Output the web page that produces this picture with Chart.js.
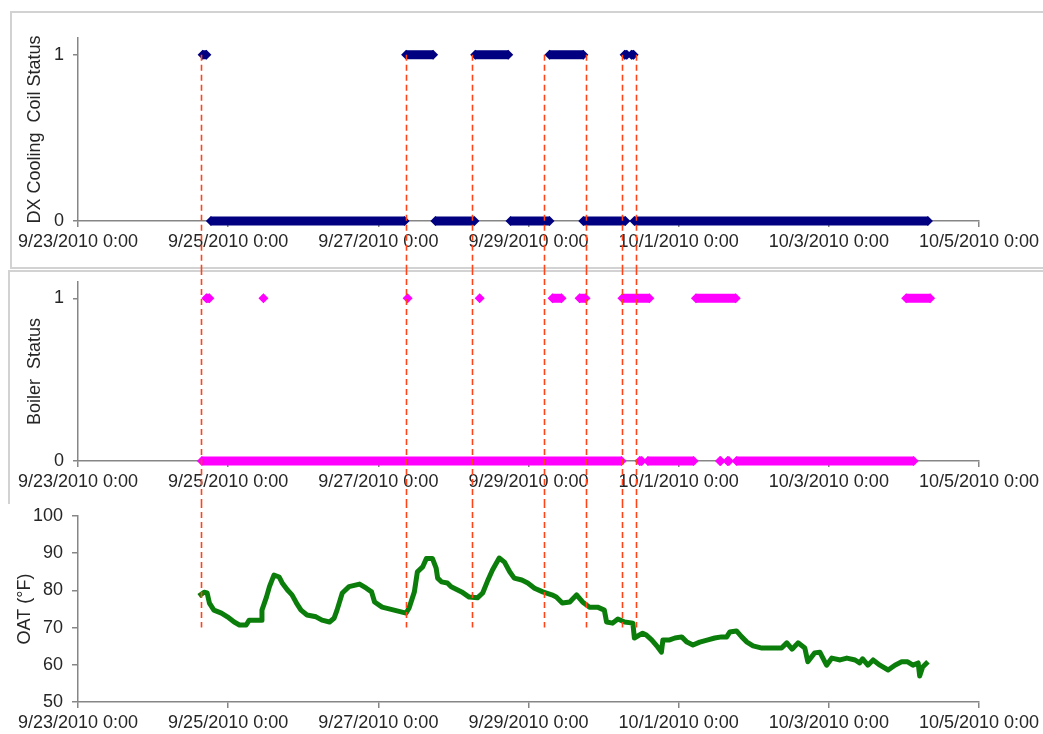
<!DOCTYPE html>
<html>
<head>
<meta charset="utf-8">
<script src="https://cdn.jsdelivr.net/npm/chart.js@4.4.1/dist/chart.umd.min.js"></script>
<style>
  body { margin: 0; background: #fff; }
  #page { position: relative; width: 1043px; height: 734px; overflow: hidden; }
  #page canvas { position: absolute; left: 0; }
  .frame { position: absolute; border: 0 solid #d2d2d2; }
</style>
</head>
<body>
<div id="page">
  <div class="frame" style="left:10px; top:11px; width:1040px; height:254px; border-width:2px 0 2px 2px;"></div>
  <div class="frame" style="left:8px; top:270px; width:1040px; height:232px; border-width:2px 0 0 2px;"></div>
  <canvas id="dxChart" width="1043" height="269" style="top:0"></canvas>
  <canvas id="boilerChart" width="1043" height="233" style="top:269px"></canvas>
  <canvas id="oatChart" width="1043" height="232" style="top:502px"></canvas>
</div>
<script>
// x values are days since 9/23/2010 0:00
const X_TICK_LABELS = ['9/23/2010 0:00', '9/25/2010 0:00', '9/27/2010 0:00', '9/29/2010 0:00',
                       '10/1/2010 0:00', '10/3/2010 0:00', '10/5/2010 0:00'];

// dashed event markers
const EVENT_DAYS = [1.64, 4.37, 5.25, 6.21, 6.76, 7.25, 7.43];

// [start, end] of each run of samples at a status level
const DX_ON_RUNS = [[1.66, 1.71], [4.37, 4.73], [5.29, 5.73], [6.28, 6.73], [7.28, 7.31], [7.37, 7.40]];
const DX_OFF_RUNS = [[1.77, 4.35], [4.76, 5.28], [5.76, 6.28], [6.73, 7.29], [7.41, 11.32]];

const BOILER_ON_RUNS = [[1.71, 1.75], [2.47, 2.47], [4.39, 4.39], [5.35, 5.35], [6.32, 6.44], [6.68, 6.76],
                        [7.25, 7.61], [8.23, 8.76], [11.03, 11.35]];
const BOILER_OFF_RUNS = [[1.65, 7.24], [7.48, 7.51], [7.59, 8.20], [8.55, 8.56], [8.65, 8.67], [8.77, 11.13]];

const OAT_DAYS = [1.61, 1.68, 1.72, 1.75, 1.81, 1.91, 1.99, 2.08, 2.15, 2.24, 2.28, 2.44, 2.45, 2.51, 2.55, 2.61,
  2.68, 2.72, 2.79, 2.85, 2.91, 2.97, 3.05, 3.17, 3.25, 3.35, 3.41, 3.45, 3.52, 3.61, 3.75, 3.84, 3.91, 3.95,
  4.05, 4.21, 4.37, 4.41, 4.48, 4.52, 4.59, 4.64, 4.72, 4.77, 4.79, 4.84, 4.92, 4.97, 5.11, 5.21, 5.32, 5.39,
  5.45, 5.52, 5.61, 5.68, 5.75, 5.81, 5.91, 5.99, 6.08, 6.19, 6.31, 6.37, 6.45, 6.55, 6.64, 6.72, 6.81, 6.92,
  7.01, 7.04, 7.12, 7.19, 7.28, 7.39, 7.41, 7.52, 7.57, 7.64, 7.72, 7.77, 7.79, 7.88, 7.95, 8.04, 8.11, 8.19,
  8.28, 8.39, 8.48, 8.57, 8.64, 8.68, 8.77, 8.84, 8.91, 8.99, 9.11, 9.19, 9.37, 9.44, 9.51, 9.59, 9.68, 9.72,
  9.81, 9.88, 9.97, 10.04, 10.15, 10.24, 10.35, 10.41, 10.45, 10.52, 10.59, 10.68, 10.79, 10.88, 10.97, 11.05,
  11.12, 11.19, 11.21, 11.25, 11.32];
const OAT_F = [78.5, 79.5, 79.3, 76.6, 74.7, 73.9, 72.9, 71.5, 70.7, 70.7, 72.0, 72.0, 74.7, 78.2, 81.0, 84.1,
  83.6, 82.0, 80.1, 78.8, 76.6, 74.7, 73.4, 72.9, 72.0, 71.5, 72.5, 74.7, 79.3, 81.0, 81.7, 80.6, 79.6, 76.9,
  75.5, 74.7, 73.9, 75.3, 79.6, 85.0, 86.3, 88.6, 88.6, 86.0, 83.3, 82.3, 82.0, 81.0, 79.6, 78.2, 78.0, 79.3,
  82.3, 85.5, 88.7, 87.6, 85.0, 83.3, 82.8, 82.0, 80.6, 79.6, 78.8, 78.2, 76.6, 76.9, 78.8, 76.9, 75.5, 75.5,
  74.7, 71.5, 71.2, 72.3, 71.5, 71.2, 67.2, 68.5, 68.0, 66.7, 64.8, 63.4, 66.7, 66.7, 67.2, 67.5, 66.1, 65.3,
  66.1, 66.7, 67.2, 67.5, 67.5, 68.8, 69.1, 67.5, 66.1, 65.1, 64.5, 64.5, 64.5, 65.9, 64.2, 65.9, 64.5, 60.8,
  63.2, 63.4, 59.9, 61.8, 61.3, 61.8, 61.3, 60.5, 61.6, 59.9, 61.3, 59.9, 58.6, 59.9, 60.8, 60.8,
  59.9, 60.5, 57.0, 59.4, 60.8];

const AXIS_GREY = '#868686';
const TEXT = '#262626';

Chart.defaults.font.family = "'Liberation Sans', Arial, sans-serif";
Chart.defaults.font.size = 18;
Chart.defaults.color = TEXT;

// runs -> points, with a null between runs so the line breaks
function runsToPoints(runs, level) {
    const pts = [];
    runs.forEach(([a, b], i) => {
        if (i) pts.push({ x: (runs[i - 1][1] + a) / 2, y: null });
        pts.push({ x: a, y: level });
        if (b !== a) pts.push({ x: b, y: level });
    });
    return pts;
}

function bandDataset(runs, level, color) {
    return {
        data: runsToPoints(runs, level),
        borderColor: color,
        backgroundColor: color,
        borderWidth: 9,
        pointStyle: 'rectRot',
        pointRadius: 5,
        pointBorderWidth: 0,
        spanGaps: false,
        clip: 12,
    };
}

const eventLines = {
    id: 'eventLines',
    afterDraw(chart, args, opts) {
        const { ctx, scales: { x, y } } = chart;
        const top = opts.from == null ? 0 : y.getPixelForValue(opts.from);
        const bottom = opts.to == null ? chart.height : y.getPixelForValue(opts.to);
        ctx.save();
        ctx.strokeStyle = '#ff4419';
        ctx.lineWidth = 1.6;
        ctx.setLineDash([6, 4]);
        for (const d of EVENT_DAYS) {
            const px = Math.round(x.getPixelForValue(d)) + 0.5;
            ctx.beginPath();
            ctx.moveTo(px, top);
            ctx.lineTo(px, bottom);
            ctx.stroke();
        }
        ctx.restore();
    }
};

function xScale(axisHeight) {
    return {
        type: 'linear',
        min: 0,
        max: 12,
        border: { display: true, color: AXIS_GREY, width: 1.5 },
        grid: { drawOnChartArea: false, drawTicks: true, tickLength: 6, color: AXIS_GREY, lineWidth: 1.5 },
        ticks: {
            stepSize: 2,
            autoSkip: false,
            maxRotation: 0,
            padding: 4,
            callback: (v) => X_TICK_LABELS[Math.round(v / 2)],
        },
        afterFit(scale) {
            scale.height = axisHeight;
            scale.paddingLeft = 0;
            scale.paddingRight = 0;
        },
    };
}

function yScale(min, max, step, title, titlePad, tickLen) {
    return {
        min, max,
        border: { display: true, color: AXIS_GREY, width: 1.5 },
        grid: { drawOnChartArea: false, drawTicks: true, tickLength: tickLen, color: AXIS_GREY, lineWidth: 1.5 },
        ticks: { stepSize: step, includeBounds: false, padding: 9 },
        title: { display: true, text: title, color: TEXT, font: { size: 18 }, padding: { top: titlePad, bottom: 0 } },
        afterFit(scale) {
            scale.width = 78;
            scale.paddingTop = 0;
            scale.paddingBottom = 0;
        },
    };
}

function baseOptions(padTop, axisHeight, y, lines) {
    return {
        responsive: false,
        animation: false,
        events: [],
        devicePixelRatio: 1,
        layout: { padding: { top: padTop, left: 0, right: 64, bottom: 0 } },
        plugins: { legend: { display: false }, tooltip: { enabled: false }, eventLines: lines },
        scales: { x: xScale(axisHeight), y },
    };
}

new Chart(document.getElementById('dxChart'), {
    type: 'line',
    data: {
        datasets: [
            bandDataset(DX_OFF_RUNS, 0, '#000080'),
            bandDataset(DX_ON_RUNS, 1, '#000080'),
        ]
    },
    options: baseOptions(38, 48, yScale(0, 1.1, 1, 'DX Cooling  Coil Status', 24, 5), { from: 1 }),
    plugins: [eventLines],
});

new Chart(document.getElementById('boilerChart'), {
    type: 'line',
    data: {
        datasets: [
            bandDataset(BOILER_OFF_RUNS, 0, '#ff00ff'),
            bandDataset(BOILER_ON_RUNS, 1, '#ff00ff'),
        ]
    },
    options: baseOptions(13, 41, yScale(0, 1.1, 1, 'Boiler  Status', 24, 5), {}),
    plugins: [eventLines],
});

new Chart(document.getElementById('oatChart'), {
    type: 'line',
    data: {
        datasets: [{
            data: OAT_DAYS.map((d, i) => ({ x: d, y: OAT_F[i] })),
            borderColor: '#0a7d0a',
            borderWidth: 5,
            pointRadius: 0,
            tension: 0,
            borderJoinStyle: 'round',
        }]
    },
    options: baseOptions(14, 32, yScale(50, 100, 10, 'OAT (°F)', 14, 6), { to: 70 }),
    plugins: [eventLines],
});
</script>
</body>
</html>
